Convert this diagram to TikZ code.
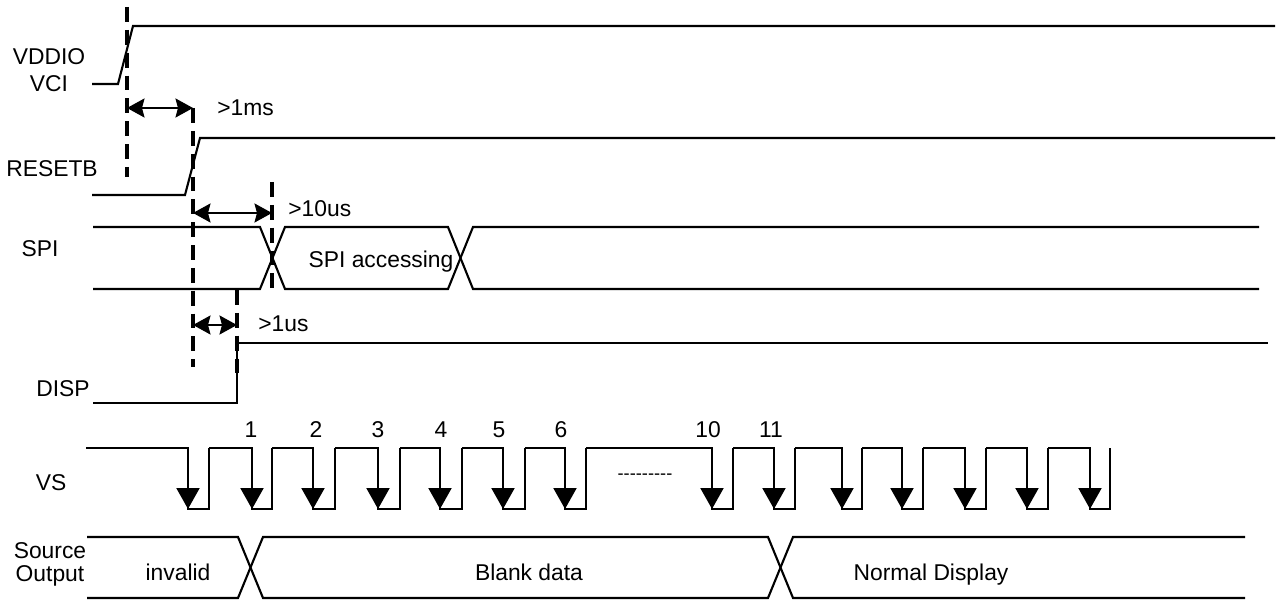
\documentclass[tikz,border=0pt]{standalone}
\usepackage{fontspec}
\setmainfont{Liberation Sans}
\usetikzlibrary{arrows.meta}

\begin{document}
\begin{tikzpicture}[
    x=0.02cm, y=-0.02cm,
    signal/.style={line width=1.2pt},
    marker line/.style={line width=2.1pt, dash pattern=on 8.5pt off 4.5pt},
    span arrow/.style={{Stealth[length=0.35cm, width=0.38cm, inset=0.05cm]}-{Stealth[length=0.35cm, width=0.38cm, inset=0.05cm]}, line width=1.2pt},
    fall arrow/.style={-{Triangle[length=0.42cm, width=0.46cm]}, line width=1.2pt},
    signal label/.style={font=\fontsize{13}{15}\selectfont, anchor=base, inner sep=0pt},
    two line label/.style={anchor=north, align=center, inner sep=0pt},
    time label/.style={font=\fontsize{13}{15}\selectfont, anchor=base west, inner sep=0pt},
    pulse label/.style={font=\fontsize{13}{15}\selectfont, anchor=base, inner sep=0pt}
]
\useasboundingbox (0,0) rectangle (1279,601);

% Signal names
\node[two line label, font=\fontsize{13}{15.3}\selectfont] (vddio) at (49,48) {VDDIO\\VCI};
\node[signal label] (resetb) at (52,177) {RESETB};
\node[signal label] (spi) at (40,257) {SPI};
\node[signal label] (disp) at (63,397) {DISP};
\node[signal label] (vs) at (51,490) {VS};
\node[two line label, font=\fontsize{13}{13}\selectfont] (source) at (50,542) {Source\\Output};

% Waveforms
\draw[signal] (92,84) -- (118,84) -- (133,26) -- (1275,26);
\draw[signal] (92,195) -- (185,195) -- (200,138) -- (1275,138);
\draw[signal] (93,227) -- (260,227) -- (285,289) -- (448,289) -- (473,227) -- (1259,227);
\draw[signal] (93,289) -- (260,289) -- (285,227) -- (448,227) -- (473,289) -- (1259,289);
\draw[signal] (93,403) -- (237,403) -- (237,343) -- (1268,343);
\draw[signal] (87,537) -- (238,537) -- (263,598) -- (768,598) -- (793,537) -- (1245,537);
\draw[signal] (87,598) -- (238,598) -- (263,537) -- (768,537) -- (793,598) -- (1245,598);

% VS pulses
\foreach \p/\f/\r in {86/188/209, 209/252/272, 272/313/335, 335/378/400, 400/440/462,
    462/503/525, 525/565/586, 586/712/733, 733/774/795, 795/842/862, 862/902/923,
    923/965/986, 986/1027/1048, 1048/1090/1110} {
    \draw[signal] (\p,448) -- (\f,448) -- (\f,509) -- (\r,509) -- (\r,448);
    \draw[fall arrow] (\f,448) -- (\f,509);
}

% Pulse numbers
\node[pulse label] (n1) at (251,438) {1};
\node[pulse label] (n2) at (316,438) {2};
\node[pulse label] (n3) at (378,438) {3};
\node[pulse label] (n4) at (441,438) {4};
\node[pulse label] (n5) at (499,438) {5};
\node[pulse label] (n6) at (561,438) {6};
\node[pulse label] (n10) at (708,438) {10};
\node[pulse label] (n11) at (771,438) {11};
\node[font=\fontsize{10.4}{12}\selectfont, inner sep=0pt] (skip) at (645,477) {-{}-{}-{}-{}-{}-{}-{}-{}-};

% Data labels
\node[signal label] (access) at (381,268) {SPI accessing};
\node[signal label] (invalid) at (178,580) {invalid};
\node[signal label] (blank) at (529,580) {Blank data};
\node[signal label] (normal) at (931,580) {Normal Display};

% Timing markers
\coordinate (power on) at (127,7);
\coordinate (reset on) at (193,108);
\coordinate (spi start) at (272,182);
\coordinate (disp on) at (237,290);
\draw[marker line] (power on) -- (127,177);
\draw[marker line] (reset on) -- (193,367);
\draw[marker line] (spi start) -- (272,290);
\draw[marker line] (disp on) -- (237,376);

% Timing spans
\coordinate (ms a) at (127,108);
\coordinate (us10 a) at (193,213);
\coordinate (us10 b) at (272,213);
\coordinate (us1 a) at (193,325);
\coordinate (us1 b) at (237,325);
\draw[span arrow] (ms a) -- (reset on);
\draw[span arrow] (us10 a) -- (us10 b);
\draw[span arrow] (us1 a) -- (us1 b);
\node[time label] (ms) at (217,116) {>1ms};
\node[time label] (us10) at (288,217) {>10us};
\node[time label] (us1) at (258,332) {>1us};

\end{tikzpicture}
\end{document}
